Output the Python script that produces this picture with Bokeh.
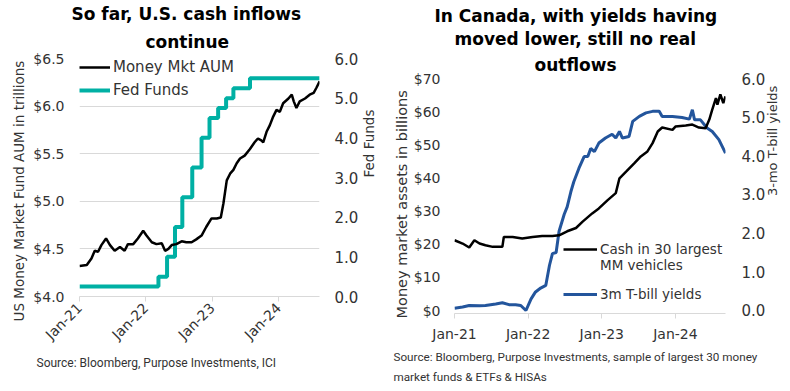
import math
from bokeh.plotting import figure
from bokeh.layouts import row, column
from bokeh.models import (Range1d, LinearAxis, FixedTicker, Legend, LegendItem,
                          Title, NumeralTickFormatter)
from bokeh.embed import file_html
from bokeh.resources import INLINE

# ---------------- data: left chart (U.S.) ----------------
# time in decimal years
us_aum_t = [2021.00, 2021.11, 2021.18, 2021.23, 2021.28, 2021.33, 2021.40, 2021.46,
            2021.53, 2021.61, 2021.68, 2021.73, 2021.81, 2021.88, 2021.96, 2022.01,
            2022.09, 2022.16, 2022.24, 2022.29, 2022.34, 2022.39, 2022.46, 2022.54,
            2022.61, 2022.69, 2022.76, 2022.84, 2022.91, 2022.99, 2023.07, 2023.13,
            2023.17, 2023.22, 2023.27, 2023.32, 2023.37, 2023.42, 2023.49, 2023.57,
            2023.64, 2023.69, 2023.74, 2023.77, 2023.82, 2023.87, 2023.92, 2023.97,
            2024.02, 2024.07, 2024.15, 2024.20, 2024.23, 2024.27, 2024.32, 2024.40,
            2024.47, 2024.53, 2024.57, 2024.62]
us_aum = [4.32, 4.33, 4.40, 4.48, 4.47, 4.54, 4.61, 4.54,
          4.48, 4.52, 4.48, 4.55, 4.55, 4.61, 4.69, 4.64,
          4.57, 4.55, 4.56, 4.48, 4.50, 4.54, 4.55, 4.58,
          4.57, 4.57, 4.60, 4.64, 4.73, 4.82, 4.82, 4.83,
          4.98, 5.22, 5.29, 5.33, 5.40, 5.45, 5.48, 5.55,
          5.62, 5.66, 5.64, 5.62, 5.73, 5.80, 5.89, 5.96,
          5.94, 6.03, 6.08, 6.12, 6.05, 5.98, 6.05, 6.08,
          6.12, 6.14, 6.19, 6.26]
fed_t = [2021.00, 2022.19, 2022.32, 2022.44, 2022.55, 2022.70, 2022.84, 2022.96,
         2023.09, 2023.21, 2023.32, 2023.57, 2024.62]
fed = [0.25, 0.50, 1.00, 1.75, 2.50, 3.25, 4.00, 4.50,
       4.75, 5.00, 5.25, 5.50, 5.50]

# ---------------- data: right chart (Canada) ----------------
ca_cash_t = [2021.00, 2021.11, 2021.20, 2021.27, 2021.34, 2021.42, 2021.52, 2021.65,
             2021.67, 2021.79, 2021.92, 2022.06, 2022.19, 2022.33, 2022.42, 2022.53,
             2022.65, 2022.74, 2022.87, 2022.96, 2023.08, 2023.19, 2023.24, 2023.33,
             2023.44, 2023.53, 2023.62, 2023.69, 2023.76, 2023.82, 2023.96, 2024.00,
             2024.14, 2024.23, 2024.32, 2024.41, 2024.46, 2024.50, 2024.55, 2024.57,
             2024.61, 2024.65, 2024.68]
ca_cash = [21.2, 20.2, 19.0, 21.2, 20.2, 19.7, 19.2, 19.2,
           22.2, 22.2, 21.7, 22.2, 22.5, 22.5, 22.7, 23.9,
           24.9, 26.8, 29.3, 30.8, 33.3, 35.4, 39.9, 41.9,
           44.4, 46.5, 48.0, 50.5, 54.0, 55.2, 54.5, 55.5,
           55.8, 56.1, 55.2, 55.0, 57.6, 60.6, 64.1, 62.1,
           65.2, 62.6, 64.6]
ca_yield_t = [2021.00, 2021.11, 2021.20, 2021.34, 2021.42, 2021.56, 2021.65, 2021.74,
              2021.83, 2021.90, 2021.97, 2022.04, 2022.10, 2022.17, 2022.24, 2022.29,
              2022.33, 2022.38, 2022.42, 2022.49, 2022.53, 2022.58, 2022.62, 2022.69,
              2022.76, 2022.81, 2022.85, 2022.90, 2022.96, 2023.05, 2023.14, 2023.19,
              2023.24, 2023.28, 2023.37, 2023.42, 2023.51, 2023.60, 2023.69, 2023.78,
              2023.82, 2023.96, 2024.09, 2024.19, 2024.23, 2024.26, 2024.34, 2024.43,
              2024.50, 2024.59, 2024.68]
ca_yield = [0.06, 0.09, 0.13, 0.12, 0.13, 0.17, 0.20, 0.15,
            0.15, 0.13, 0.00, 0.30, 0.48, 0.58, 0.65, 1.17,
            1.47, 1.50, 2.05, 2.49, 2.68, 3.07, 3.33, 3.68,
            3.98, 3.98, 4.19, 4.11, 4.33, 4.46, 4.56, 4.46,
            4.63, 4.46, 4.50, 4.89, 5.02, 5.11, 5.15, 5.15,
            5.02, 5.02, 4.99, 4.95, 5.19, 4.93, 4.93, 4.72,
            4.63, 4.42, 4.07]

year_ticks = [2021, 2022, 2023, 2024]
year_labels = ["Jan-21", "Jan-22", "Jan-23", "Jan-24"]
us_aum_ticks = [4.0, 4.5, 5.0, 5.5, 6.0, 6.5]
rate_ticks = [0, 1, 2, 3, 4, 5, 6]
ca_cash_ticks = [0, 10, 20, 30, 40, 50, 60, 70]

FONT = "DejaVu Sans"
SRC_FONT = "Roboto"
TXT = "#333333"
GRID = "#d9d9d9"
TEAL = "#00B0A4"
BLUE = "#23559C"


def style_y(ax, ticks, fmt, size, standoff, label_standoff, label_size):
    ax.ticker = FixedTicker(ticks=ticks)
    ax.formatter = NumeralTickFormatter(format=fmt)
    ax.axis_line_color = None
    ax.major_tick_line_color = None
    ax.major_tick_out = 0
    ax.major_tick_in = 0
    ax.minor_tick_line_color = None
    ax.minor_tick_out = 0
    ax.major_label_text_font = FONT
    ax.major_label_text_font_size = size
    ax.major_label_text_color = TXT
    ax.major_label_standoff = standoff
    ax.axis_label_text_font = FONT
    ax.axis_label_text_font_size = label_size
    ax.axis_label_text_font_style = "normal"
    ax.axis_label_text_color = TXT
    ax.axis_label_standoff = label_standoff


def style_x(ax, standoff, orientation):
    ax.ticker = FixedTicker(ticks=year_ticks)
    ax.major_label_overrides = dict(zip(year_ticks, year_labels))
    ax.axis_line_color = GRID
    ax.major_tick_line_color = GRID
    ax.major_tick_out = 5
    ax.major_tick_in = 0
    ax.minor_tick_line_color = None
    ax.minor_tick_out = 0
    ax.major_label_text_font = FONT
    ax.major_label_text_font_size = "14px"
    ax.major_label_text_color = TXT
    ax.major_label_standoff = standoff
    ax.major_label_orientation = orientation


def head(text, offset, standoff):
    return Title(text=text, align="left", offset=offset, standoff=standoff,
                 text_font=FONT, text_font_size="17px", text_font_style="bold",
                 text_color="black")


def side_title(text, offset, standoff, size):
    return Title(text=text, align="left", offset=offset, standoff=standoff,
                 text_font=FONT, text_font_size=size, text_font_style="normal",
                 text_color=TXT)


# ---------------- left chart ----------------
p1 = figure(width=390, height=391, output_backend="svg",
            toolbar_location=None, title_location=None,
            x_range=Range1d(2021.0, 2024.618), y_range=Range1d(4.0, 6.5),
            min_border_left=79, min_border_right=71, min_border_top=58,
            min_border_bottom=95, outline_line_color=None)
p1.extra_y_ranges = {"ff": Range1d(0, 6.0)}
p1.xgrid.grid_line_color = None
p1.ygrid.grid_line_color = GRID
p1.ygrid.ticker = FixedTicker(ticks=us_aum_ticks)

# title lines stack outward from the frame
p1.add_layout(head("continue", 66, 13), "above")
p1.add_layout(head("So far, U.S. cash inflows", -8, 0), "above")

style_y(p1.yaxis[0], us_aum_ticks, "$0.0", "14px", 15, 8, "13.5px")
p1.add_layout(side_title("US Money Market Fund AUM in trillions", -25, 8, "13.5px"),
              "left")
ax1r = LinearAxis(y_range_name="ff", axis_label="Fed Funds")
style_y(ax1r, rate_ticks, "0.0", "15px", 15, 8, "13.5px")
ax1r.axis_label_orientation = math.pi / 2
p1.add_layout(ax1r, "right")
style_x(p1.xaxis[0], 4, math.pi / 4)

r_ff = p1.step(x=fed_t, y=fed, mode="after", line_color=TEAL, line_width=4,
               y_range_name="ff")
r_aum = p1.line(x=us_aum_t, y=us_aum, line_color="black", line_width=2.5)

leg1 = Legend(items=[LegendItem(label="Money Mkt AUM", renderers=[r_aum]),
                     LegendItem(label="Fed Funds", renderers=[r_ff])],
              location=(0, 197), padding=0, margin=0, spacing=5,
              label_height=18, glyph_height=18, glyph_width=31, label_standoff=3,
              label_text_font=FONT, label_text_font_size="15px",
              label_text_color=TXT, background_fill_alpha=0,
              border_line_alpha=0)
p1.add_layout(leg1, "center")

p1.add_layout(Title(text="Source: Bloomberg, Purpose Investments, ICI",
                    align="left", offset=-43, standoff=4,
                    text_font=SRC_FONT, text_font_size="12px",
                    text_font_style="normal", text_color=TXT), "below")

# ---------------- right chart ----------------
p2 = figure(width=400, height=391, output_backend="svg",
            toolbar_location=None, title_location=None,
            x_range=Range1d(2021.0, 2024.68), y_range=Range1d(-0.905, 70),
            min_border_left=64, min_border_right=65, min_border_top=78,
            min_border_bottom=78, outline_line_color=None)
p2.extra_y_ranges = {"yld": Range1d(-0.078, 6.0)}
p2.xgrid.grid_line_color = None
p2.ygrid.grid_line_color = None

p2.add_layout(head("outflows", 80, 8), "above")
p2.add_layout(head("moved lower, still no real", 0, 0), "above")
p2.add_layout(head("In Canada, with yields having", -20, 2), "above")

style_y(p2.yaxis[0], ca_cash_ticks, "$0", "14px", 14, 6, "14.5px")
p2.add_layout(side_title("Money market assets in billions", -5, 2, "14.5px"),
              "left")
ax2r = LinearAxis(y_range_name="yld", axis_label="3-mo T-bill yields")
style_y(ax2r, rate_ticks, "0.0", "15px", 16, 4, "13px")
ax2r.axis_label_orientation = math.pi / 2
p2.add_layout(ax2r, "right")
style_x(p2.xaxis[0], 7, "horizontal")

r_yld = p2.line(x=ca_yield_t, y=ca_yield, line_color=BLUE, line_width=3,
                y_range_name="yld")
r_cash = p2.line(x=ca_cash_t, y=ca_cash, line_color="black", line_width=2.5)
r_blank = p2.line(x=[], y=[], line_alpha=0)

leg2a = Legend(items=[LegendItem(label="Cash in 30 largest", renderers=[r_cash]),
                      LegendItem(label="MM vehicles", renderers=[r_blank])],
               location=(109, 40), padding=0, margin=0, spacing=0,
               label_height=16, glyph_height=16, glyph_width=34, label_standoff=3,
               label_text_font=FONT, label_text_font_size="13.5px",
               label_text_color=TXT, background_fill_alpha=0,
               border_line_alpha=0)
leg2b = Legend(items=[LegendItem(label="3m T-bill yields", renderers=[r_yld])],
               location=(109, 11), padding=0, margin=0, spacing=0,
               label_height=16, glyph_height=16, glyph_width=34, label_standoff=3,
               label_text_font=FONT, label_text_font_size="13.5px",
               label_text_color=TXT, background_fill_alpha=0,
               border_line_alpha=0)
p2.add_layout(leg2a, "center")
p2.add_layout(leg2b, "center")

p2.add_layout(Title(text="Source: Bloomberg, Purpose Investments, sample of largest 30 money\nmarket funds & ETFs & HISAs",
                    align="left", offset=-61, standoff=7,
                    text_font=SRC_FONT, text_font_size="11.7px",
                    text_font_style="normal", text_color=TXT,
                    text_line_height=1.4), "below")

layout = row(column(p1), column(p2))
open("out.html", "w").write(file_html(layout, INLINE))
